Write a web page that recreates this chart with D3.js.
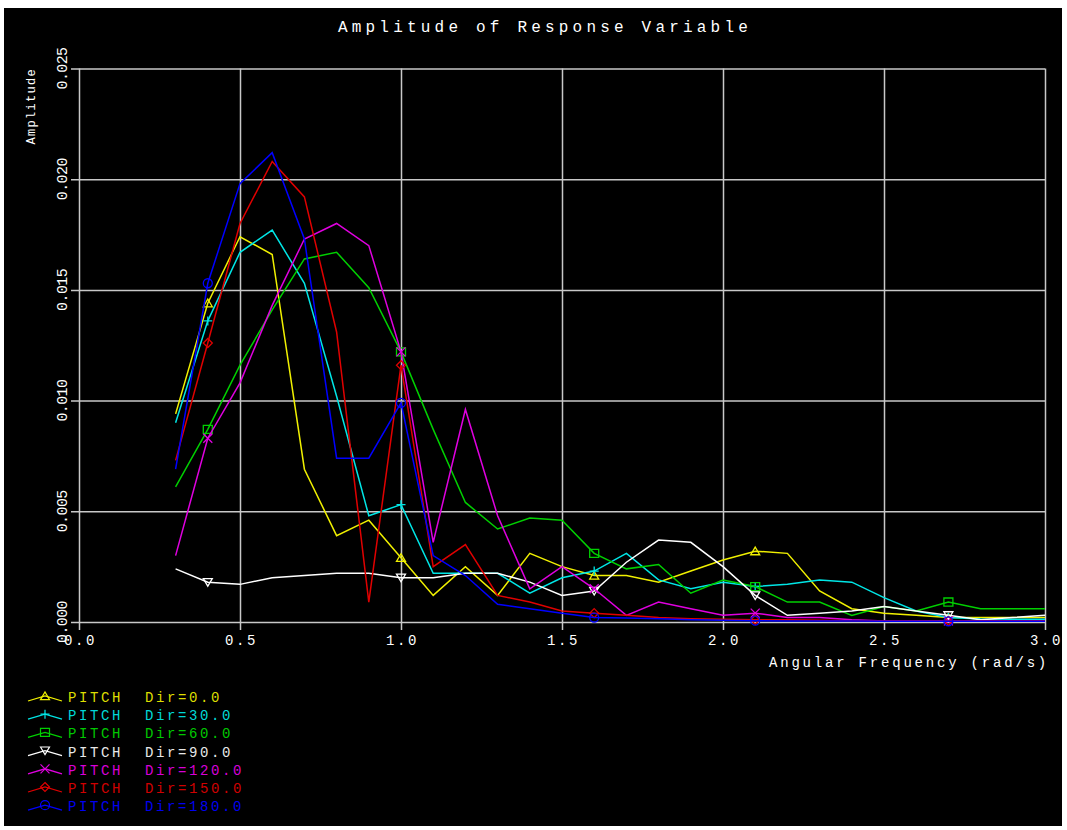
<!DOCTYPE html>
<html><head><meta charset="utf-8">
<script src="https://cdn.jsdelivr.net/npm/d3@7"></script>
<style>html,body{margin:0;padding:0;background:#fff;}svg{display:block;}</style>
</head><body>
<svg id="chart" width="1067" height="830"></svg>
<script>
const freq = [0.3,0.4,0.5,0.6,0.7,0.8,0.9,1.0,1.1,1.2,1.3,1.4,1.5,1.6,1.7,1.8,1.9,2.0,2.1,2.2,2.3,2.4,2.5,2.6,2.7,2.8,2.9,3.0];
const dir0   = [0.0094,0.0144,0.0174,0.0166,0.0069,0.0039,0.0046,0.0029,0.0012,0.0025,0.0012,0.0031,0.0025,0.0021,0.0021,0.0018,0.0023,0.0028,0.0032,0.0031,0.0014,0.0006,0.0004,0.0003,0.0002,0.0002,0.0002,0.0002];
const dir30  = [0.0090,0.0136,0.0167,0.0177,0.0153,0.0102,0.0048,0.0053,0.0022,0.0022,0.0022,0.0013,0.0020,0.0023,0.0031,0.0019,0.0015,0.0018,0.0016,0.0017,0.0019,0.0018,0.0011,0.0005,0.0002,0.00014,0.00012,0.00012];
const dir60  = [0.0061,0.0087,0.0116,0.0141,0.0164,0.0167,0.0151,0.0122,0.0087,0.0054,0.0042,0.0047,0.0046,0.0031,0.0024,0.0026,0.0013,0.0019,0.0016,0.0009,0.0009,0.0003,0.0007,0.0005,0.0009,0.0006,0.0006,0.0006];
const dir90  = [0.0024,0.0018,0.0017,0.0020,0.0021,0.0022,0.0022,0.0020,0.0020,0.0022,0.0022,0.0018,0.0012,0.0014,0.0027,0.0037,0.0036,0.0025,0.0012,0.0003,0.0004,0.0005,0.0007,0.0005,0.0003,0.0001,0.0002,0.0003];
const dir120 = [0.0030,0.0083,0.0108,0.0143,0.0173,0.0180,0.0170,0.0122,0.0036,0.0096,0.0048,0.0015,0.0025,0.0015,0.0003,0.0009,0.0006,0.0003,0.0004,0.0002,0.0002,0.0001,0.00005,0.00005,0.00005,0.00005,0.00005,0.00005];
const dir150 = [0.0073,0.0126,0.0180,0.0208,0.0192,0.0131,0.0009,0.0116,0.0025,0.0035,0.0012,0.0009,0.0005,0.0004,0.0003,0.0002,0.00015,0.00012,0.0001,0.0001,0.00008,0.00006,0.00005,0.00005,0.00005,0.00005,0.00005,0.00005];
const dir180 = [0.0069,0.0153,0.0198,0.0212,0.0173,0.0074,0.0074,0.0099,0.0030,0.0021,0.0008,0.0006,0.0004,0.0002,0.00018,0.00015,0.0001,0.00008,0.00006,0.00005,0.00004,0.00004,0.00003,0.00003,0.00003,0.00003,0.00003,0.00003];
const seriesNames = ["PITCH", "PITCH", "PITCH", "PITCH", "PITCH", "PITCH", "PITCH"];
const dirLabels = ["Dir=0.0","Dir=30.0","Dir=60.0","Dir=90.0","Dir=120.0","Dir=150.0","Dir=180.0"];
const seriesValues = [dir0, dir30, dir60, dir90, dir120, dir150, dir180];
const colors = ["#f0f000","#00e6e6","#00d000","#ffffff","#e000e0","#e00000","#0000ff"];
const textColors = ["#dede00","#00d8d8","#00c800","#e8e8e8","#d800d8","#d00000","#0000f0"];
const markerTypes = ["triangle","plus","square","triangleDown","cross","diamond","circle"];
const markerFreqs = [0.4, 1.0, 1.6, 2.1, 2.7];
const xTicks = [0.0,0.5,1.0,1.5,2.0,2.5,3.0];
const yTicks = [0.000,0.005,0.010,0.015,0.020,0.025];
const titleText = "Amplitude of Response Variable";
const xTitle = "Angular Frequency (rad/s)";
const yTitle = "Amplitude";

const svg = d3.select("#chart");
const font = "'Liberation Mono', 'DejaVu Sans Mono', monospace";
svg.append("rect").attr("x",4).attr("y",8).attr("width",1058).attr("height",818).attr("fill","#000");

const x = d3.scaleLinear().domain([0,3]).range([79,1045]);
const y = d3.scaleLinear().domain([0,0.025]).range([622,68.5]);

const grid = svg.append("g");
grid.append("g").attr("transform","translate(0,630)")
  .call(d3.axisBottom(x).tickValues(xTicks).tickSize(630-68.5).tickFormat(""))
  .call(g=>{g.select(".domain").remove(); g.selectAll("line").attr("y2",-(630-68.5)).attr("stroke","#c8c8c8").attr("stroke-width",1.5);});
grid.append("g").attr("transform","translate(71,0)")
  .call(d3.axisLeft(y).tickValues(yTicks).tickSize(0).tickFormat(""))
  .call(g=>{g.select(".domain").remove(); g.selectAll("line").attr("x2",1045-71).attr("stroke","#c8c8c8").attr("stroke-width",1.5);});

svg.append("g").selectAll("text").data(xTicks).join("text")
  .attr("x",d=>x(d)+1.5).attr("y",645).attr("text-anchor","middle")
  .attr("fill","#fff").attr("font-family",font).attr("font-size",14).attr("letter-spacing",2.6)
  .text(d=>d.toFixed(1));
svg.append("g").selectAll("text").data(yTicks).join("text")
  .attr("transform",d=>`translate(67,${y(d)}) rotate(-90)`).attr("text-anchor","middle")
  .attr("fill","#fff").attr("font-family",font).attr("font-size",15).attr("letter-spacing",-0.6)
  .text(d=>d.toFixed(3));

svg.append("text").attr("x",545).attr("y",32).attr("text-anchor","middle")
  .attr("fill","#fff").attr("font-family",font).attr("font-size",16).attr("letter-spacing",4.2)
  .text(titleText);
svg.append("text").attr("x",769).attr("y",667)
  .attr("fill","#fff").attr("font-family",font).attr("font-size",14).attr("letter-spacing",2.8)
  .text(xTitle);
svg.append("text").attr("transform","translate(35,68) rotate(-90)").attr("text-anchor","end")
  .attr("fill","#fff").attr("font-family",font).attr("font-size",12).attr("letter-spacing",1.3)
  .text(yTitle);

function markerPath(type, cx, cy){
  const s = 4.5;
  switch(type){
    case "triangle": return `M${cx-s},${cy+s*0.8}L${cx},${cy-s*0.9}L${cx+s},${cy+s*0.8}Z`;
    case "triangleDown": return `M${cx-s},${cy-s*0.8}L${cx},${cy+s*0.9}L${cx+s},${cy-s*0.8}Z`;
    case "plus": return `M${cx-s},${cy}L${cx+s},${cy}M${cx},${cy-s}L${cx},${cy+s}`;
    case "cross": return `M${cx-s},${cy-s}L${cx+s},${cy+s}M${cx-s},${cy+s}L${cx+s},${cy-s}`;
    case "square": return `M${cx-s},${cy-s*0.9}H${cx+s}V${cy+s*0.9}H${cx-s}Z`;
    case "diamond": return `M${cx},${cy-s}L${cx+s},${cy}L${cx},${cy+s}L${cx-s},${cy}Z`;
    case "circle": return `M${cx+s},${cy}A${s},${s} 0 1,1 ${cx-s},${cy}A${s},${s} 0 1,1 ${cx+s},${cy}`;
  }
}

const line = d3.line().x(d=>x(d[0])).y(d=>y(d[1]));
const plot = svg.append("g");
seriesValues.forEach((vals,i)=>{
  const pts = freq.map((f,j)=>[f, vals[j]]);
  plot.append("path").attr("d",line(pts)).attr("fill","none").attr("stroke",colors[i]).attr("stroke-width",1.5);
  const mk = pts.filter(p=>markerFreqs.some(m=>Math.abs(m-p[0])<1e-6));
  plot.append("g").selectAll("path").data(mk).join("path")
    .attr("d",p=>markerPath(markerTypes[i], x(p[0]), y(p[1])))
    .attr("fill","none").attr("stroke",colors[i]).attr("stroke-width",1.3);
});

const leg = svg.append("g");
seriesValues.forEach((vals,i)=>{
  const cy = 697 + i*18.2;
  leg.append("path").attr("d",`M28,${cy+4}L45,${cy-1}L62,${cy+4}`).attr("fill","none").attr("stroke",colors[i]).attr("stroke-width",1.3);
  leg.append("path").attr("d",markerPath(markerTypes[i],45,cy-1)).attr("fill","none").attr("stroke",colors[i]).attr("stroke-width",1.2);
  leg.append("text").attr("x",68).attr("y",cy+5).attr("fill",textColors[i]).attr("font-family",font).attr("font-size",14).attr("letter-spacing",2.6).text(seriesNames[i]);
  leg.append("text").attr("x",145).attr("y",cy+5).attr("fill",textColors[i]).attr("font-family",font).attr("font-size",14).attr("letter-spacing",2.6).text(dirLabels[i]);
});
</script>
</body></html>
